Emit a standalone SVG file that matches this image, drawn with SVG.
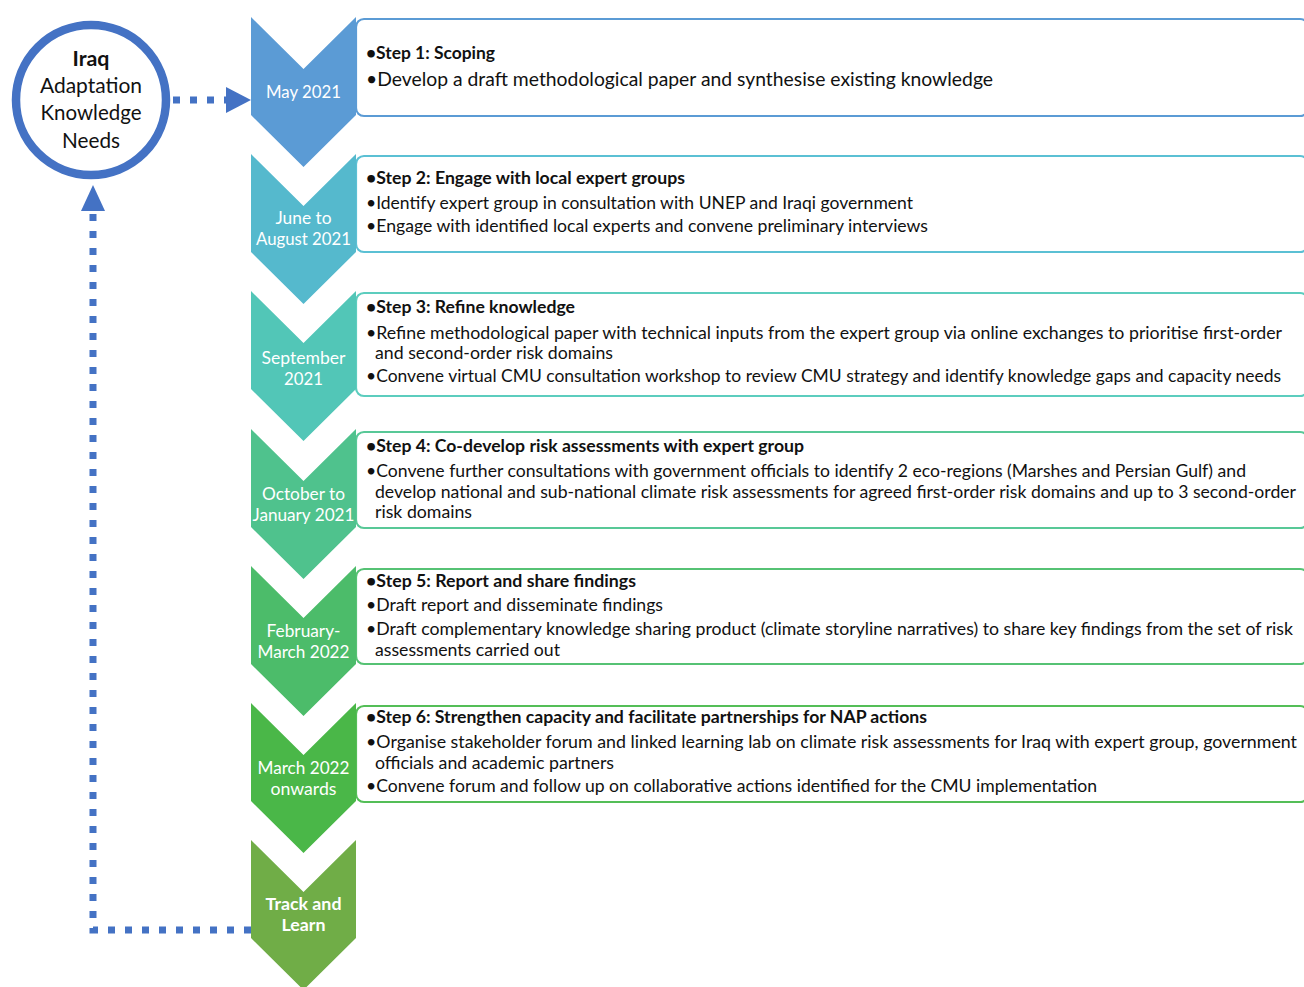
<svg xmlns="http://www.w3.org/2000/svg" width="1304" height="987" viewBox="0 0 1304 987">
<style>
.box{fill:#fff;stroke-width:2.2}
.lbl{font-family:Lato,"Liberation Sans",sans-serif;font-size:17px;fill:#fff;text-anchor:middle}
.t{font-family:Lato,"Liberation Sans",sans-serif;font-size:16.5px;fill:#111}
.b{font-weight:bold}
.c{font-family:Lato,"Liberation Sans",sans-serif;font-size:21px;fill:#111;text-anchor:middle}
.dot{fill:none;stroke:#4472C4;stroke-width:7;stroke-dasharray:7 10}
</style>
<g id="connectors">
<path class="dot" d="M173,100 H227"/>
<polygon points="226,87 251,100 226,113" fill="#4472C4"/>
<path class="dot" d="M251,930 H93 V210"/>
<polygon points="81,211 93,185 105,211" fill="#4472C4"/>
</g>
<g id="circle">
<circle cx="91" cy="100" r="75" fill="#fff" stroke="#4472C4" stroke-width="8.5"/>
<text class="c b" x="91" y="66" textLength="37" lengthAdjust="spacingAndGlyphs">Iraq</text>
<text class="c" x="91" y="93" textLength="102" lengthAdjust="spacingAndGlyphs">Adaptation</text>
<text class="c" x="91" y="120" textLength="101" lengthAdjust="spacingAndGlyphs">Knowledge</text>
<text class="c" x="91" y="148" textLength="58" lengthAdjust="spacingAndGlyphs">Needs</text>
</g>
<g id="step1">
<rect class="box" x="356" y="19" width="952" height="97" rx="8" stroke="#5B9BD5"/>
<polygon points="251,17 303.5,69 356,17 356,115 303.5,167 251,115" fill="#5B9BD5"/>
<text class="lbl" x="303.5" y="98" textLength="75" lengthAdjust="spacingAndGlyphs">May 2021</text>
<text class="t b" x="366" y="59" textLength="129" lengthAdjust="spacingAndGlyphs">•Step 1: Scoping</text>
<text class="t" x="366" y="86" style="font-size:18.5px" textLength="627" lengthAdjust="spacingAndGlyphs">•Develop a draft methodological paper and synthesise existing knowledge</text>
</g>
<g id="step2">
<rect class="box" x="356" y="156" width="952" height="96" rx="8" stroke="#5BC0D4"/>
<polygon points="251,154 303.5,206 356,154 356,252 303.5,304 251,252" fill="#55B9CD"/>
<text class="lbl" x="303.5" y="224" textLength="56" lengthAdjust="spacingAndGlyphs">June to</text>
<text class="lbl" x="303.5" y="245" textLength="95" lengthAdjust="spacingAndGlyphs">August 2021</text>
<text class="t b" x="366" y="184" textLength="319" lengthAdjust="spacingAndGlyphs">•Step 2: Engage with local expert groups</text>
<text class="t" x="366" y="209" textLength="547" lengthAdjust="spacingAndGlyphs">•Identify expert group in consultation with UNEP and Iraqi government</text>
<text class="t" x="366" y="232" textLength="562" lengthAdjust="spacingAndGlyphs">•Engage with identified local experts and convene preliminary interviews</text>
</g>
<g id="step3">
<rect class="box" x="356" y="293" width="952" height="103" rx="8" stroke="#5CCDBE"/>
<polygon points="251,291 303.5,343 356,291 356,389 303.5,441 251,389" fill="#52C6B7"/>
<text class="lbl" x="303.5" y="364" textLength="84" lengthAdjust="spacingAndGlyphs">September</text>
<text class="lbl" x="303.5" y="385" textLength="39" lengthAdjust="spacingAndGlyphs">2021</text>
<text class="t b" x="366" y="313" textLength="209" lengthAdjust="spacingAndGlyphs">•Step 3: Refine knowledge</text>
<text class="t" x="366" y="339" textLength="916" lengthAdjust="spacingAndGlyphs">•Refine methodological paper with technical inputs from the expert group via online exchanges  to prioritise first-order</text>
<text class="t" x="375" y="359" textLength="238" lengthAdjust="spacingAndGlyphs">and second-order risk domains</text>
<text class="t" x="366" y="382" textLength="915" lengthAdjust="spacingAndGlyphs">•Convene virtual CMU consultation workshop to review CMU strategy and identify knowledge gaps and capacity needs</text>
</g>
<g id="step4">
<rect class="box" x="356" y="432" width="952" height="96" rx="8" stroke="#58C897"/>
<polygon points="251,429 303.5,481 356,429 356,527 303.5,579 251,527" fill="#4FC28D"/>
<text class="lbl" x="303.5" y="500" textLength="83" lengthAdjust="spacingAndGlyphs">October to</text>
<text class="lbl" x="303.5" y="521" textLength="102" lengthAdjust="spacingAndGlyphs">January 2021</text>
<text class="t b" x="366" y="452" textLength="438" lengthAdjust="spacingAndGlyphs">•Step 4: Co-develop risk assessments with expert group</text>
<text class="t" x="366" y="477" textLength="880" lengthAdjust="spacingAndGlyphs">•Convene further consultations with government officials to identify 2 eco-regions (Marshes and Persian Gulf) and</text>
<text class="t" x="375" y="498" textLength="921" lengthAdjust="spacingAndGlyphs">develop national and sub-national climate risk assessments for agreed first-order risk domains and up to 3 second-order</text>
<text class="t" x="375" y="518" textLength="97" lengthAdjust="spacingAndGlyphs">risk domains</text>
</g>
<g id="step5">
<rect class="box" x="356" y="569" width="952" height="95" rx="8" stroke="#56C274"/>
<polygon points="251,566 303.5,618 356,566 356,664 303.5,716 251,664" fill="#4CBC6A"/>
<text class="lbl" x="303.5" y="637" textLength="74" lengthAdjust="spacingAndGlyphs">February-</text>
<text class="lbl" x="303.5" y="658" textLength="92" lengthAdjust="spacingAndGlyphs">March 2022</text>
<text class="t b" x="366" y="587" textLength="270" lengthAdjust="spacingAndGlyphs">•Step 5: Report and share findings</text>
<text class="t" x="366" y="611" textLength="297" lengthAdjust="spacingAndGlyphs">•Draft report and disseminate findings</text>
<text class="t" x="366" y="635" textLength="927" lengthAdjust="spacingAndGlyphs">•Draft complementary knowledge sharing product (climate storyline narratives) to share key findings from the set of risk</text>
<text class="t" x="375" y="656" textLength="185" lengthAdjust="spacingAndGlyphs">assessments carried out</text>
</g>
<g id="step6">
<rect class="box" x="356" y="706" width="952" height="96" rx="8" stroke="#54BE57"/>
<polygon points="251,703 303.5,755 356,703 356,801 303.5,853 251,801" fill="#4AB748"/>
<text class="lbl" x="303.5" y="774" textLength="92" lengthAdjust="spacingAndGlyphs">March 2022</text>
<text class="lbl" x="303.5" y="795" textLength="66" lengthAdjust="spacingAndGlyphs">onwards</text>
<text class="t b" x="366" y="723" textLength="561" lengthAdjust="spacingAndGlyphs">•Step 6: Strengthen capacity and facilitate partnerships for NAP actions</text>
<text class="t" x="366" y="748" textLength="931" lengthAdjust="spacingAndGlyphs">•Organise stakeholder forum and linked learning lab on climate risk assessments for Iraq with expert group,  government</text>
<text class="t" x="375" y="769" textLength="239" lengthAdjust="spacingAndGlyphs">officials and academic partners</text>
<text class="t" x="366" y="792" textLength="731" lengthAdjust="spacingAndGlyphs">•Convene forum and follow up on collaborative actions identified for the CMU implementation</text>
</g>
<g id="track">
<polygon points="251,840 303.5,892 356,840 356,938 303.5,990 251,938" fill="#70AD47"/>
<text class="lbl b" x="303.5" y="910" textLength="76" lengthAdjust="spacingAndGlyphs">Track and</text>
<text class="lbl b" x="303.5" y="931" textLength="44" lengthAdjust="spacingAndGlyphs">Learn</text>
</g>
</svg>
